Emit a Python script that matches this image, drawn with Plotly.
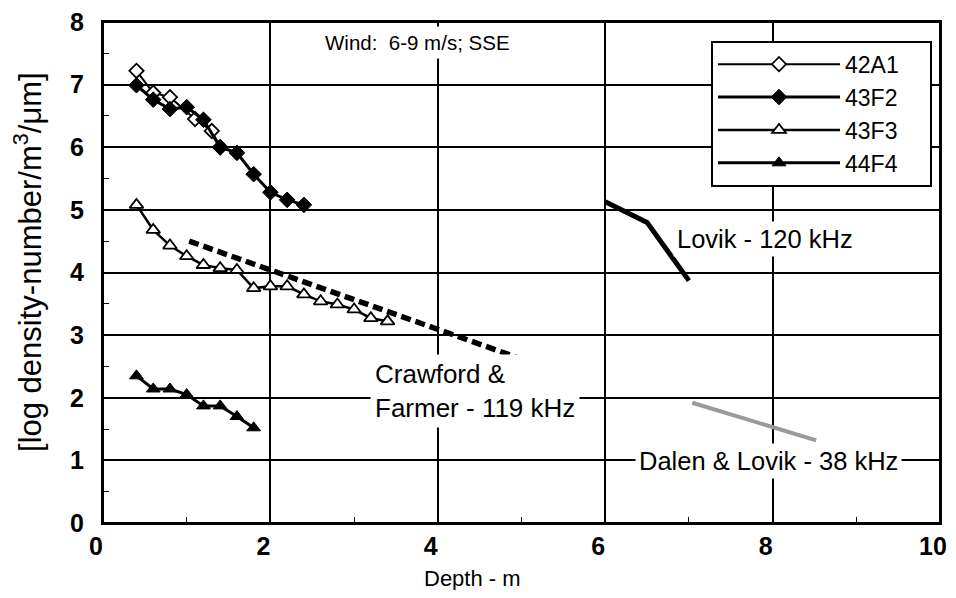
import plotly.graph_objects as go

# ---- data ----
x_42A1 = [0.4, 0.6, 0.8, 1.1, 1.3, 1.4]
y_42A1 = [7.22, 6.87, 6.80, 6.45, 6.26, 6.00]

x_43F2 = [0.4, 0.6, 0.8, 1.0, 1.2, 1.4, 1.6, 1.8, 2.0, 2.2, 2.4]
y_43F2 = [6.99, 6.76, 6.61, 6.64, 6.44, 6.00, 5.91, 5.57, 5.28, 5.16, 5.08]

x_43F3 = [0.4, 0.6, 0.8, 1.0, 1.2, 1.4, 1.6, 1.8, 2.0, 2.2, 2.4, 2.6, 2.8, 3.0, 3.2, 3.4]
y_43F3 = [5.08, 4.68, 4.43, 4.26, 4.12, 4.07, 4.04, 3.75, 3.78, 3.78, 3.65, 3.54, 3.49, 3.41, 3.27, 3.22]

x_44F4 = [0.4, 0.6, 0.8, 1.0, 1.2, 1.4, 1.6, 1.8]
y_44F4 = [2.35, 2.14, 2.14, 2.05, 1.87, 1.87, 1.70, 1.52]

x_crawford = [1.03, 5.06]
y_crawford = [4.50, 2.59]

x_lovik = [6.0, 6.5, 7.0]
y_lovik = [5.13, 4.80, 3.87]

x_dalen = [7.04, 8.52]
y_dalen = [1.92, 1.32]

FONT = "Liberation Sans, Arial, Helvetica, sans-serif"
NB = "\u00a0"

fig = go.Figure()

fig.add_trace(go.Scatter(x=x_crawford, y=y_crawford, mode="lines", showlegend=False,
                         line=dict(color="black", width=5.5, dash="10px,5px")))
fig.add_trace(go.Scatter(x=x_lovik, y=y_lovik, mode="lines", showlegend=False,
                         line=dict(color="black", width=5)))
fig.add_trace(go.Scatter(x=x_dalen, y=y_dalen, mode="lines", showlegend=False,
                         line=dict(color="#9a9a9a", width=4)))

fig.add_trace(go.Scatter(x=x_42A1, y=y_42A1, name="42A1" + NB * 4, mode="lines+markers",
                         line=dict(color="black", width=2),
                         marker=dict(symbol="diamond", size=11, color="white",
                                     line=dict(color="black", width=1.8))))
fig.add_trace(go.Scatter(x=x_43F2, y=y_43F2, name="43F2" + NB * 4, mode="lines+markers",
                         line=dict(color="black", width=3),
                         marker=dict(symbol="diamond", size=12, color="black",
                                     line=dict(color="black", width=1))))
fig.add_trace(go.Scatter(x=x_43F3, y=y_43F3, name="43F3" + NB * 4, mode="lines+markers",
                         line=dict(color="black", width=2.5),
                         marker=dict(symbol="triangle-up", size=12, color="white",
                                     line=dict(color="black", width=1.8))))
fig.add_trace(go.Scatter(x=x_44F4, y=y_44F4, name="44F4" + NB * 4, mode="lines+markers",
                         line=dict(color="black", width=3),
                         marker=dict(symbol="triangle-up", size=12, color="black",
                                     line=dict(color="black", width=1))))

annotations = [
    dict(x=3.76, y=7.68, xref="x", yref="y", text="Wind:  6-9 m/s; SSE", showarrow=False,
         font=dict(family=FONT, size=20.5, color="black"), bgcolor="white", borderpad=4),
    dict(x=4.44, y=2.1, xref="x", yref="y", text="Crawford &<br>Farmer - 119 kHz",
         showarrow=False, align="left", font=dict(family=FONT, size=26, color="black"),
         bgcolor="white", borderpad=4),
    dict(x=7.91, y=4.53, xref="x", yref="y", text="Lovik - 120 kHz", showarrow=False,
         font=dict(family=FONT, size=25.5, color="black"), bgcolor="white", borderpad=3),
    dict(x=7.95, y=0.99, xref="x", yref="y", text="Dalen & Lovik - 38 kHz", showarrow=False,
         font=dict(family=FONT, size=25.5, color="black"), bgcolor="white", borderpad=3),
    dict(x=0.441, y=-0.11, xref="paper", yref="paper", text="Depth - m", showarrow=False,
         font=dict(family=FONT, size=22, color="black"), yanchor="middle"),
    dict(x=-0.0896, y=0.521, xref="paper", yref="paper", textangle=-90,
         text="[log density-number/m<sup>3</sup>/\u03bcm]", showarrow=False,
         xanchor="center", yanchor="middle",
         font=dict(family=FONT, size=31, color="black")),
]

# page body has an 8px margin, so the figure is sized to fit inside the window
fig.update_layout(
    width=940, height=582,
    margin=dict(l=95, r=8, t=14, b=67, autoexpand=False),
    paper_bgcolor="white", plot_bgcolor="white",
    font=dict(family=FONT, color="black"),
    annotations=annotations,
    shapes=[dict(type="rect", xref="paper", yref="paper", x0=0, x1=1, y0=0, y1=1,
                 line=dict(color="black", width=2), layer="above")],
    legend=dict(x=0.7264, y=0.9627, xanchor="left", yanchor="top",
                bgcolor="white", bordercolor="black", borderwidth=2,
                font=dict(family=FONT, size=23, color="black"),
                itemwidth=122, tracegroupgap=0),
)

fig.update_xaxes(range=[0, 10], dtick=2, tick0=0, automargin=False,
                 showgrid=True, gridcolor="black", gridwidth=1.5, zeroline=False,
                 showline=True, mirror=True, linecolor="black", linewidth=2,
                 ticks="", ticklabelshift=-7, ticklabeloverflow="allow",
                 tickfont=dict(family=FONT, size=25, color="black", weight="bold"),
                 minor=dict(dtick=1, ticks="inside", ticklen=6, tickcolor="black", showgrid=False))
fig.update_yaxes(range=[0, 8], dtick=1, tick0=0, automargin=False,
                 showgrid=True, gridcolor="black", gridwidth=1.5, zeroline=False,
                 showline=True, mirror=True, linecolor="black", linewidth=2,
                 ticks="", ticklabelstandoff=12, ticklabeloverflow="allow",
                 tickfont=dict(family=FONT, size=25, color="black", weight="bold"),
                 minor=dict(dtick=0.5, ticks="inside", ticklen=6, tickcolor="black", showgrid=False))

fig.write_html("out.html")
